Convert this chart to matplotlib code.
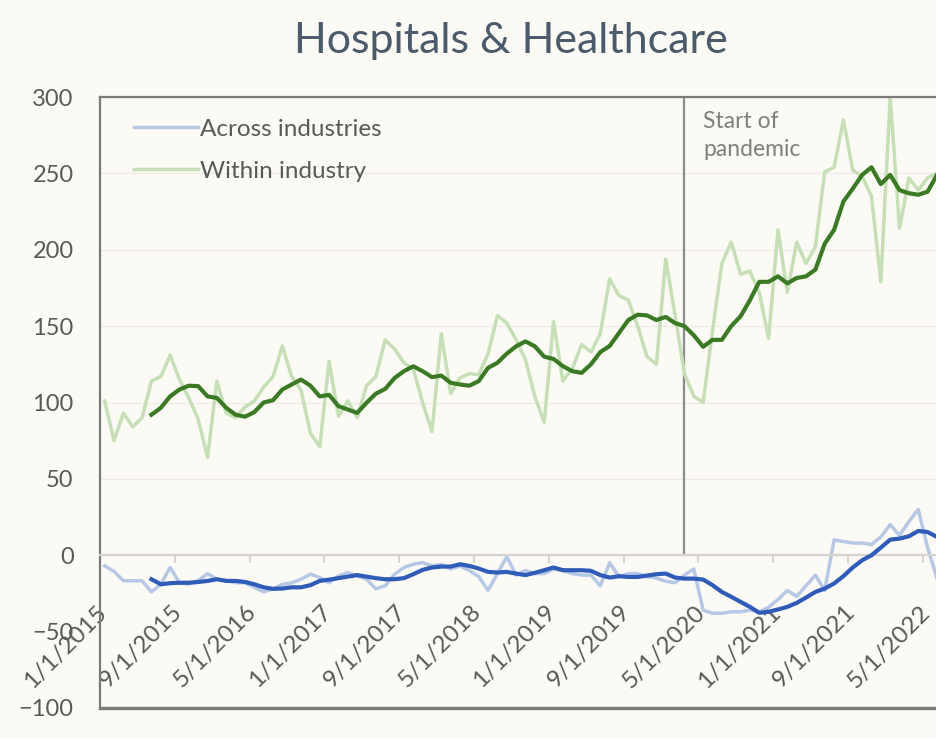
import numpy as np
import matplotlib.pyplot as plt
from matplotlib.transforms import ScaledTranslation

# monthly points, Jan 2015 .. Jun 2022 (index 0..89)
months = np.arange(90)

within_raw = [101, 75, 93, 84, 90, 114, 117, 131, 115, 103,
              89, 64, 114, 93, 90, 97, 101, 110, 117, 137,
              117, 108, 80, 71, 127, 91, 101, 90, 111, 117,
              141, 135, 126, 122, 100, 81, 145, 106, 116, 119,
              118, 132, 157, 152, 141, 128, 104, 87, 153, 114,
              122, 138, 133, 145, 181, 170, 167, 150, 130, 125,
              194, 157, 119, 104, 100, 147, 191, 205, 184, 186,
              172, 142, 213, 172, 205, 191, 202, 251, 254, 285,
              252, 248, 235, 179, 300, 214, 247, 239, 247, 250]

within_avg = [np.nan] * 5 + [
              92, 96.5, 104, 108.5, 111, 110.7, 104, 103, 96.5, 92,
              90.7, 93.7, 100, 101.5, 108.5, 111.8, 115, 111, 104, 105,
              97.6, 95.4, 93.2, 99.8, 105.8, 108.9, 116, 120.5, 123.7, 120.5,
              116.6, 117.6, 112.9, 111.8, 111, 114, 122.7, 126, 132, 136.8,
              140, 136.8, 130, 128.5, 123.8, 120.5, 119.4, 125, 133, 137,
              145.5, 154, 157.5, 157, 154, 156, 152, 150, 144, 136.5,
              141, 141, 150, 156.4, 167, 179, 179, 182.6, 178, 181.5,
              182.6, 187, 204, 213, 231.6, 240, 249, 254, 243, 249,
              239, 237, 236, 238, 249]

across_raw = [-7, -10.5, -16.7, -16.7, -16.7, -24, -19, -8, -18, -19,
              -16.7, -12, -15.7, -16.7, -18, -18, -21, -24, -22, -19,
              -18, -15.7, -12.4, -14.6, -18, -13.5, -11.3, -13.5, -15.7, -22,
              -20, -12.4, -8, -5.9, -4.8, -7, -6, -9, -7, -10,
              -14, -23, -12, -1, -13, -10, -12, -12, -9, -10,
              -12, -13, -13, -20, -5, -14, -12, -12, -14, -15,
              -17, -18, -13, -9, -36, -38, -38, -37, -37, -36,
              -37, -34, -29, -23, -27, -20, -13, -23, 10, 9,
              8, 8, 7, 12, 20, 13, 22, 30, 5, -15]

across_avg = [np.nan] * 5 + [
              -15.7, -19, -18.3, -18, -18, -17.5, -16.8, -15.7, -16.8, -16.8,
              -17.5, -19, -21, -22, -21.8, -21, -21, -19.6, -16.8, -16,
              -15, -14, -13, -14, -15, -15.7, -15.7, -15, -12.4, -9.6,
              -8, -7.4, -7.4, -5.9, -7, -8.7, -10.9, -11.3, -10.9, -12,
              -13, -11.5, -9.8, -8, -9.8, -9.8, -9.8, -10.2, -13, -14.6,
              -13.7, -14.2, -14.2, -13.3, -12.4, -12, -14.6, -15.3, -15.3, -15.9,
              -19.6, -24, -27.2, -30.5, -33.8, -37.7, -37, -35.5, -33.8, -31.2,
              -27.7, -24, -21.8, -18.5, -13.7, -8, -3.3, 0, 5, 10.2,
              10.9, 12.4, 15.9, 15.2, 12]

tick_pos = [-0.5, 7.5, 15.5, 23.5, 31.5, 39.5, 47.5, 55.5, 63.5, 71.5, 79.5, 87.5]
tick_labels = ['1/1/2015', '9/1/2015', '5/1/2016', '1/1/2017', '9/1/2017', '5/1/2018',
               '1/1/2019', '9/1/2019', '5/1/2020', '1/1/2021', '9/1/2021', '5/1/2022']
pandemic_month = 62  # Mar 2020

bg = '#fcfaf5'
plt.rcParams['font.family'] = ['Lato', 'DejaVu Sans']

fig = plt.figure(figsize=(9.36, 7.38), dpi=100, facecolor=bg)
ax = fig.add_axes([100 / 936, 30 / 738, 836 / 936, 611 / 738])
ax.set_facecolor(bg)

# grid
for v in [50, 100, 150, 200, 250]:
    ax.axhline(v, color='#efece6', lw=1.0, zorder=0)

ax.plot(months, within_raw, color='#c6dfb6', lw=2.5, zorder=2, label='Within industry')
ax.plot(months, across_raw, color='#b7c8e6', lw=2.5, zorder=2, label='Across industries')
ax.plot(months, within_avg, color='#3a7a24', lw=3.0, zorder=3)
ax.plot(months, across_avg, color='#2f5cb8', lw=3.0, zorder=3)

ax.plot([pandemic_month, pandemic_month], [0, 300], color='#8c8c8c', lw=1.6, zorder=1)
ax.text(pandemic_month + 2.0, 291, 'Start of\npandemic', color='#7f7f7f', fontsize=16.5,
        va='top', ha='left', linespacing=1.45)

ax.set_xlim(-0.5, 88.9)
ax.set_ylim(-100, 300)
ax.set_yticks([-100, -50, 0, 50, 100, 150, 200, 250, 300])
ax.tick_params(axis='y', length=0, pad=19, labelsize=17, labelcolor='#595959')

# x axis sits on the zero line
ax.spines['bottom'].set_position(('data', 0))
ax.spines['bottom'].set_color('#d6d3ce')
ax.spines['bottom'].set_linewidth(1.6)
ax.spines['right'].set_visible(False)
for s in ['left', 'top']:
    ax.spines[s].set_color('#7a7a7a')
    ax.spines[s].set_linewidth(1.6)
ax.axhline(-100, color='#7a7a7a', lw=2.4, clip_on=False, zorder=5)

ax.set_xticks(tick_pos)
ax.set_xticklabels(tick_labels, rotation=45, ha='right', va='top')
ax.tick_params(axis='x', length=6, width=1.4, color='#d6d3ce', direction='out',
               pad=2, labelsize=17.5, labelcolor='#595959')
off = ScaledTranslation(0.11, -0.35, fig.dpi_scale_trans)
for lab in ax.get_xticklabels():
    lab.set_transform(lab.get_transform() + off)

h, l = ax.get_legend_handles_labels()
ax.legend([h[1], h[0]], [l[1], l[0]], loc='upper left', bbox_to_anchor=(0.015, 1.0),
          frameon=False, fontsize=17.5, labelcolor='#595959', handlelength=2.6,
          handletextpad=0.1, labelspacing=0.85)

fig.text(0.546, 0.944, 'Hospitals & Healthcare', ha='center', va='center',
         fontsize=31, color='#4b5b6b')

fig.savefig('out.png', dpi=100, facecolor=bg)
